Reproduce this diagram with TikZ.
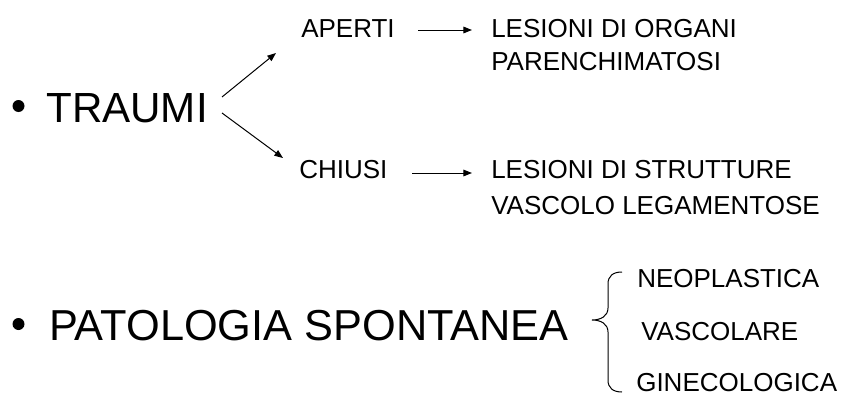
\documentclass[tikz,border=0pt]{standalone}
\usepackage{fontspec}
\setmainfont{Liberation Sans}
\usetikzlibrary{arrows.meta,positioning}

\tikzset{
  bigtxt/.style={font=\fontsize{31.6}{36}\selectfont, inner sep=0pt, anchor=base west},
  smalltxt/.style={font=\fontsize{19.5}{23}\selectfont, inner sep=0pt, anchor=base west},
  dot/.style={circle, fill, inner sep=0pt, minimum size=9pt},
  arr/.style={-{Triangle[length=6.5pt,width=5pt]}, line width=0.75pt},
}

\begin{document}
\begin{tikzpicture}[x=0.75pt,y=-0.75pt]
\useasboundingbox (0,0) rectangle (843,396);

% traumi
\node[dot] (b1) at (18.5,106) {};
\node[bigtxt] (traumi) at (46,122) {TRAUMI};
\node[smalltxt] (aperti) at (301,37) {APERTI};
\node[smalltxt] (chiusi) at (299,178) {CHIUSI};
\node[smalltxt] (lesA) at (491,37) {LESIONI DI ORGANI};
\node[smalltxt] (lesA2) at (491,70) {PARENCHIMATOSI};
\node[smalltxt] (lesB) at (491,178) {LESIONI DI STRUTTURE};
\node[smalltxt] (lesB2) at (491,214) {VASCOLO LEGAMENTOSE};

\coordinate (tu) at (222,97);
\coordinate (td) at (222,113);
\coordinate (au) at (276,53);
\coordinate (ad) at (283,158);
\coordinate (ha1) at (418,30);
\coordinate (ha2) at (472,30);
\coordinate (hc1) at (412,173);
\coordinate (hc2) at (472,173);

\draw[arr] (tu) -- (au);
\draw[arr] (td) -- (ad);
\draw[arr] (ha1) -- (ha2);
\draw[arr] (hc1) -- (hc2);

% patologia
\node[dot] (b2) at (18.5,324) {};
\node[bigtxt, font=\fontsize{32.5}{36}\selectfont] (pat) at (49,340) {PATOLOGIA SPONTANEA};
\node[smalltxt] (neo) at (637,287) {NEOPLASTICA};
\node[smalltxt] (vasc) at (641,340) {VASCOLARE};
\node[smalltxt] (gine) at (636,391) {GINECOLOGICA};

\draw[line width=0.75pt] (622,272) .. controls (613,272) and (608,276) .. (608,284)
  -- (608,308) .. controls (608,316) and (601,320) .. (592,320)
  .. controls (601,320) and (608,324) .. (608,332)
  -- (608,380) .. controls (608,388) and (613,392) .. (622,392);

\end{tikzpicture}
\end{document}
